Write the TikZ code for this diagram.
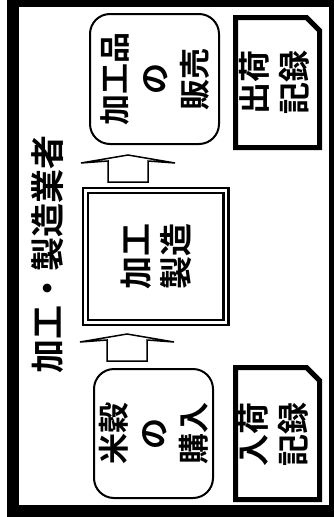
\documentclass[tikz,border=0pt]{standalone}
\usepackage{fontspec}
\newfontfamily\jpfont{Noto Sans CJK JP Bold}
\tikzset{
  rbox/.style={draw, line width=2pt, rounded corners=20pt, rotate=90, align=center,
    font=\jpfont\fontsize{31}{40}\selectfont},
  doctext/.style={rotate=90, align=center, font=\jpfont\fontsize{32}{40}\selectfont},
  docline/.style={line width=5pt, line join=miter},
  bigarrow/.style={draw, line width=1.5pt, fill=white, line join=miter}
}
\begin{document}
\begin{tikzpicture}[x=1pt,y=-1pt]
\useasboundingbox (0,0) rectangle (334,517);
% frame
\fill (7,0) rectangle (334,517);
\fill[white] (19,7) rectangle (329,505);
% title
\node[rotate=90, font=\jpfont\fontsize{34}{34}\selectfont] (title) at (47.5,254) {加工・製造業者};
% boxes
\node[rbox, minimum width=130pt, minimum height=129pt] (sell) at (154.5,79) {加工品\\の\\販売};
\node[rbox, minimum width=129pt, minimum height=119pt] (buy) at (153.5,433.5) {米穀\\の\\購入};
\node[draw, double, line width=2.5pt, double distance=2.5pt, rotate=90,
  minimum width=132pt, minimum height=140.5pt, align=center,
  font=\jpfont\fontsize{33}{40}\selectfont] (make) at (155.75,256.5) {加工\\製造};
% records
\draw[docline] (235.5,17.5) -- (306.5,17.5) -- (319.5,30.5) -- (319.5,147.5) -- (235.5,147.5) -- cycle;
\node[doctext] (outrec) at (274,82) {出荷\\記録};
\draw[docline] (235.5,367.5) -- (306.5,367.5) -- (319.5,380.5) -- (319.5,499.5) -- (235.5,499.5) -- cycle;
\node[doctext] (inrec) at (273,434) {入荷\\記録};
% arrows
\coordinate (uptip) at (128,155);
\coordinate (lowtip) at (127,334);
\foreach \t in {uptip,lowtip}
  \draw[bigarrow, shift={(\t)}] (-20,27) -- (-20,6) -- (-47,8) -- (0,0) -- (47,8) -- (20,6) -- (20,27) -- cycle;
\end{tikzpicture}
\end{document}
